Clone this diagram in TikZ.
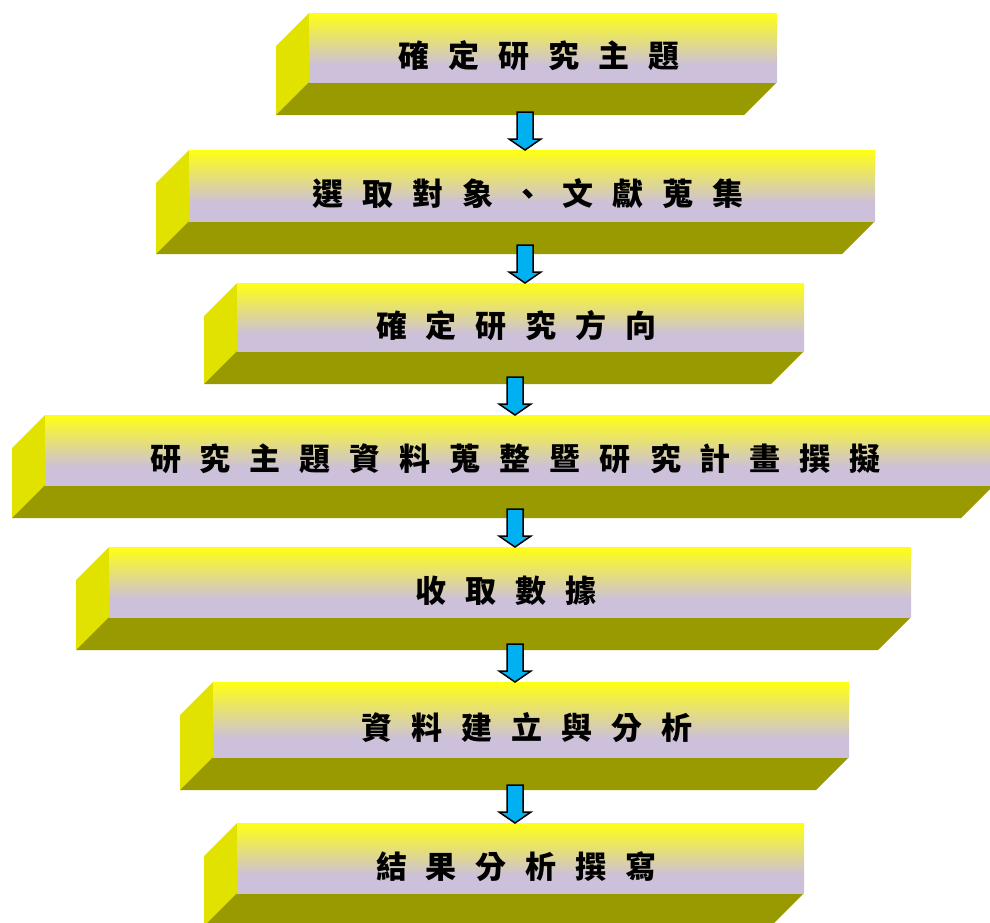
\documentclass[tikz,border=0pt]{standalone}
\usepackage{fontspec}
\newfontfamily\cjkfont{Noto Sans CJK TC}
\definecolor{yel}{RGB}{255,255,20}
\definecolor{lav}{RGB}{204,192,218}
\definecolor{sideyel}{RGB}{226,226,0}
\definecolor{olivebot}{RGB}{153,153,0}
\definecolor{arrblue}{RGB}{0,176,240}
\pgfdeclareverticalshading{faceshade}{100bp}{color(0bp)=(lav); color(37.5bp)=(lav); color(75bp)=(yel); color(100bp)=(yel)}
\newcommand\cg{\hspace{19pt}}
% name, x1, y1, x2, y2, text
\newcommand\flowbox[6]{%
  \fill[sideface] (#2,#3) -- (#2-33,#3+33) -- (#2-33,#5+33) -- (#2,#5) -- cycle;
  \fill[bottomface] (#2,#5) -- (#4,#5) -- (#4-33,#5+33) -- (#2-33,#5+33) -- cycle;
  \shade[shading=faceshade] (#2,#3) rectangle (#4,#5);
  \node[boxtext] (#1) at ({(#2+#4)/2-4},{(#3+#5)/2+20}) {#6};
}
\newcommand\downarrowblock[1]{%
  \draw[blockarrow] (#1) ++(-8,0) -- ++(16,0) -- ++(0,27) -- ++(8,0) -- ++(-16,11) -- ++(-16,-11) -- ++(8,0) -- cycle;
}
\begin{document}
\begin{tikzpicture}[x=1pt,y=-1pt,
  sideface/.style={fill=sideyel},
  bottomface/.style={fill=olivebot},
  boxtext/.style={anchor=base,inner sep=0pt,font=\cjkfont\bfseries\fontsize{31}{31}\selectfont},
  blockarrow/.style={fill=arrblue,draw=black,line width=1.5pt,line join=miter}]
\useasboundingbox (0,0) rectangle (990,922);
\flowbox{b1}{309}{13}{777}{82}{確\cg 定\cg 研\cg 究\cg 主\cg 題}
\flowbox{b2}{189}{150}{875}{221}{選\cg 取\cg 對\cg 象\cg 、\cg 文\cg 獻\cg 蒐\cg 集}
\flowbox{b3}{237}{283}{804}{351}{確\cg 定\cg 研\cg 究\cg 方\cg 向}
\flowbox{b4}{45}{415}{994}{485}{研\cg 究\cg 主\cg 題\cg 資\cg 料\cg 蒐\cg 整\cg 暨\cg 研\cg 究\cg 計\cg 畫\cg 撰\cg 擬}
\flowbox{b5}{109}{547}{911}{617}{收\cg 取\cg 數\cg 據}
\flowbox{b6}{213}{682}{849}{757}{資\cg 料\cg 建\cg 立\cg 與\cg 分\cg 析}
\flowbox{b7}{237}{823}{804}{893}{結\cg 果\cg 分\cg 析\cg 撰\cg 寫}
\coordinate (a1) at (525,112);
\coordinate (a2) at (525,245);
\coordinate (a3) at (515,377);
\coordinate (a4) at (515,509);
\coordinate (a5) at (515,644);
\coordinate (a6) at (515,785);
\downarrowblock{a1}
\downarrowblock{a2}
\downarrowblock{a3}
\downarrowblock{a4}
\downarrowblock{a5}
\downarrowblock{a6}
\end{tikzpicture}
\end{document}
